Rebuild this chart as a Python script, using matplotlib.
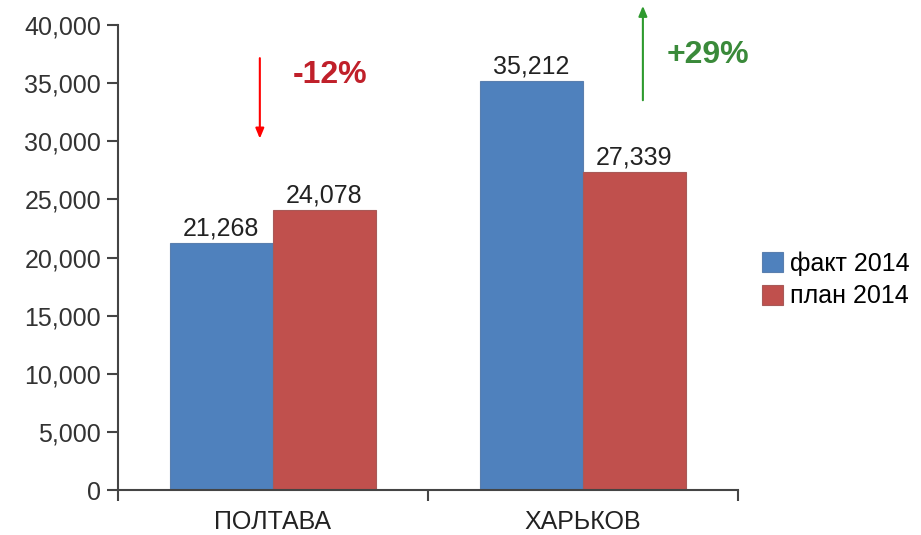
import matplotlib.pyplot as plt
from matplotlib.ticker import FuncFormatter

# данные
goroda = ['ПОЛТАВА', 'ХАРЬКОВ']
fakt = [21268, 35212]
plan = [24078, 27339]
serii = ['факт 2014', 'план 2014']
izmenenie = ['-12%', '+29%']

plt.rcParams['font.family'] = ['Liberation Sans', 'DejaVu Sans']

fig = plt.figure(figsize=(9.21, 5.35), dpi=100)
ax = fig.add_axes([0.128, 0.084, 0.673, 0.869])

x = range(len(goroda))
w = 0.332
b1 = ax.bar([i - w / 2 for i in x], fakt, w, color='#4F81BD', edgecolor='#5a7fae', lw=0.8, label=serii[0])
b2 = ax.bar([i + w / 2 for i in x], plan, w, color='#C0504D', edgecolor='#a85a58', lw=0.8, label=serii[1])

# подписи над столбиками
for bars in (b1, b2):
    for r in bars:
        ax.text(r.get_x() + r.get_width() / 2, r.get_height() + 200, f'{int(r.get_height()):,}',
                ha='center', va='bottom', fontsize=18, color='#222222')

ax.set_xlim(-0.5, 1.5)
ax.set_ylim(0, 40000)
ax.set_yticks(range(0, 40001, 5000))
ax.yaxis.set_major_formatter(FuncFormatter(lambda v, p: f'{int(v):,}'))
ax.set_xticks(list(x))
ax.set_xticklabels(goroda)
ax.set_xticks([-0.5, 0.5, 1.5], minor=True)
ax.tick_params(axis='x', which='major', length=0, pad=14, labelsize=18, labelcolor='#222222')
ax.tick_params(axis='x', which='minor', length=8, width=1.5, color='#444444')
ax.tick_params(axis='y', length=8, width=1.5, color='#444444', pad=4, labelsize=18, labelcolor='#333333')

for s in ['top', 'right']:
    ax.spines[s].set_visible(False)
for s in ['left', 'bottom']:
    ax.spines[s].set_color('#444444')
    ax.spines[s].set_linewidth(1.5)

# стрелки и проценты
ax.annotate('', xy=(-0.042, 30000), xytext=(-0.042, 37400),
            arrowprops=dict(arrowstyle='-|>,head_length=0.6,head_width=0.25', color='red', lw=1.5))
ax.annotate('', xy=(1.194, 41900), xytext=(1.194, 33300), annotation_clip=False,
            arrowprops=dict(arrowstyle='-|>,head_length=0.6,head_width=0.25', color='#2e9a2e', lw=1.5))
ax.text(0.184, 35700, izmenenie[0], ha='center', va='center', fontsize=23, fontweight='bold', color='#c0202a')
ax.text(1.403, 37400, izmenenie[1], ha='center', va='center', fontsize=23, fontweight='bold', color='#3a8a3a')

fig.legend(loc='center left', bbox_to_anchor=(0.814, 0.477), frameon=False, fontsize=18,
           handlelength=0.85, handleheight=0.85, handletextpad=0.25, labelspacing=0.35, borderpad=0)

fig.savefig('out.png', dpi=100)
